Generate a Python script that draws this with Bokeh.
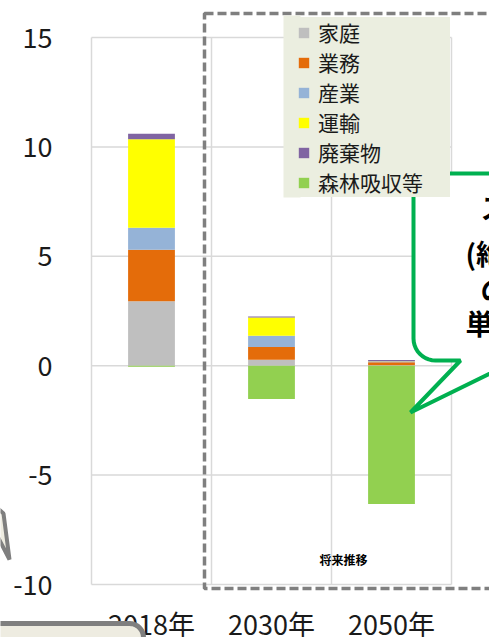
import math
from bokeh.plotting import figure
from bokeh.models import (Range1d, FixedTicker, Legend, LegendItem, PolyAnnotation,
                          BoxAnnotation, Label, ColumnDataSource)
from bokeh.embed import file_html
from bokeh.resources import INLINE

# ---- data ----
years = ["2018年", "2030年", "2050年"]
sectors = ["家庭", "業務", "産業", "運輸", "廃棄物"]
household = [2.94, 0.27, 0.02]
business = [2.36, 0.58, 0.14]
industry = [1.01, 0.52, 0.03]
transport = [4.04, 0.83, 0.01]
waste = [0.25, 0.05, 0.06]
forest = [-0.05, -1.52, -6.32]
forest_label = "森林吸収等"
sector_colors = ["#BFBFBF", "#E46C0A", "#95B3D7", "#FFFF00", "#8064A2"]
forest_color = "#92D050"
y_ticks = [-10, -5, 0, 5, 10, 15]
region_label = "将来推移"
callout_lines = ["ス", "(絶", "の", "単"]

FONT = "Noto Sans CJK JP"
W, H = 489, 637

# chart area in pixels -> data helpers for annotations
FL, FR, FT, FB = 91, 451, 37, 584
YMIN, YMAX = -10, 15
NX = len(years)


def dx(px):
    return (px - FL) / (FR - FL) * NX


def dy(py):
    return YMAX - (py - FT) / (FB - FT) * (YMAX - YMIN)


p = figure(width=W, height=H, min_border=0,
           x_range=Range1d(dx(0), dx(W)), y_range=Range1d(dy(H), dy(0)),
           output_backend="svg", toolbar_location=None,
           background_fill_color="white", border_fill_color="white",
           outline_line_color=None)

xs = [i + 0.5 for i in range(NX)]
data = dict(x=xs, forest=forest)
for name, vals in zip(sectors, [household, business, industry, transport, waste]):
    data[name] = vals
source = ColumnDataSource(data)

# grid (limited to the chart area)
p.xgrid.visible = False
p.ygrid.visible = False
bounds = list(range(NX + 1))
p.segment(x0=[0] * len(y_ticks), x1=[NX] * len(y_ticks), y0=y_ticks, y1=y_ticks,
          line_color="#D9D9D9", line_width=1.5)
p.segment(x0=bounds, x1=bounds, y0=[YMIN] * len(bounds), y1=[YMAX] * len(bounds),
          line_color="#D9D9D9", line_width=1.5)

# axes placed at the chart edges
p.yaxis.fixed_location = 0
p.xaxis.fixed_location = YMIN
p.yaxis.ticker = FixedTicker(ticks=y_ticks)
p.yaxis.major_label_overrides = {t: str(t) for t in y_ticks}
p.xaxis.ticker = FixedTicker(ticks=xs)
p.xaxis.major_label_overrides = {x: y for x, y in zip(xs, years)}
for ax in (p.xaxis, p.yaxis):
    ax.axis_line_color = None
    ax.major_tick_line_color = None
    ax.minor_tick_line_color = None
    ax.major_tick_out = 0
    ax.major_tick_in = 0
    ax.major_label_text_font = FONT
    ax.major_label_text_font_size = "27px"
    ax.major_label_text_color = "#1a1a1a"
p.yaxis.major_label_standoff = 39
p.xaxis.major_label_standoff = 19

# bars
rs = p.vbar_stack(sectors, x="x", width=0.39, color=sector_colors,
                  line_color=None, source=source)
rf = p.vbar(x="x", top=0, bottom="forest", width=0.39, color=forest_color,
            line_color=None, source=source)

# dashed future region
p.add_layout(PolyAnnotation(xs=[dx(204), dx(620), dx(620), dx(204)],
                            ys=[dy(13), dy(13), dy(588), dy(588)],
                            fill_alpha=0, line_color="#7F7F7F", line_alpha=1,
                            line_width=3.5, line_dash="9 4"))

# legend
p.add_layout(BoxAnnotation(left=dx(283), right=dx(300), top=dy(15), bottom=dy(197),
                           fill_color="#EBEEE0", fill_alpha=1, line_color=None))
items = [LegendItem(label=s, renderers=[r]) for s, r in zip(sectors, rs)]
items.append(LegendItem(label=forest_label, renderers=[rf]))
legend = Legend(items=items, location=(297, H - 197), orientation="vertical",
                background_fill_color="#EBEEE0", background_fill_alpha=1,
                border_line_color=None, label_text_font=FONT,
                label_text_font_size="21px", label_text_color="#1a1a1a",
                glyph_width=13, glyph_height=13, label_standoff=8,
                label_height=30, spacing=0, padding=1, margin=0, label_width=132)
p.add_layout(legend)

p.add_layout(Label(x=dx(343), y=dy(559), text=region_label, text_align="center",
                   text_baseline="middle", text_font=FONT, text_font_size="12px",
                   text_font_style="bold", text_color="black"))


def arc(cx, cy, r, a0, a1, n=10):
    return [(cx + r * math.cos(math.radians(a0 + (a1 - a0) * k / n)),
             cy + r * math.sin(math.radians(a0 + (a1 - a0) * k / n))) for k in range(n + 1)]


def to_data(pts):
    return [dx(a) for a, b in pts], [dy(b) for a, b in pts]


# green callout with tail (extends beyond the right edge)
L, T, B, R = 413, 173, 360, 22
cpts = [(L + R, T), (640, T), (640, B), (516, B), (410, 412), (460, B)]
cpts += arc(L + R, B - R, R, 90, 180)
cpts += arc(L + R, T + R, R, 180, 270)
cxs, cys = to_data(cpts)
p.add_layout(PolyAnnotation(xs=cxs, ys=cys, fill_color="white", fill_alpha=1,
                            line_color="#00B050", line_alpha=1, line_width=4,
                            level="overlay"))
for txt, px, py in zip(callout_lines, [480, 465, 480, 465], [206, 252, 288, 322]):
    p.add_layout(Label(x=dx(px), y=dy(py), text=txt, text_align="left",
                       text_baseline="middle", text_font=FONT, text_font_size="28px",
                       text_font_style="bold", text_color="black", level="overlay"))

# bottom-left box (partly off the page) and arrow fragment on the left edge
bpts = [(-20, 623), (143 - 14, 623)] + arc(143 - 14, 623 + 14, 14, 270, 360) + [(143, 700), (-20, 700)]
bxs, bys = to_data(bpts)
p.add_layout(PolyAnnotation(xs=bxs, ys=bys, fill_color="#EEECE1", fill_alpha=1,
                            line_color="#7F7F7F", line_alpha=1, line_width=5,
                            level="overlay"))
apts = [(-6, 505), (3, 513), (9, 559), (-6, 530)]
axs, ays = to_data(apts)
p.add_layout(PolyAnnotation(xs=axs, ys=ays, fill_color="#EEECE1", fill_alpha=1,
                            line_color="#7F7F7F", line_alpha=1, line_width=4,
                            level="overlay"))

open("out.html", "w").write(file_html(p, INLINE))
